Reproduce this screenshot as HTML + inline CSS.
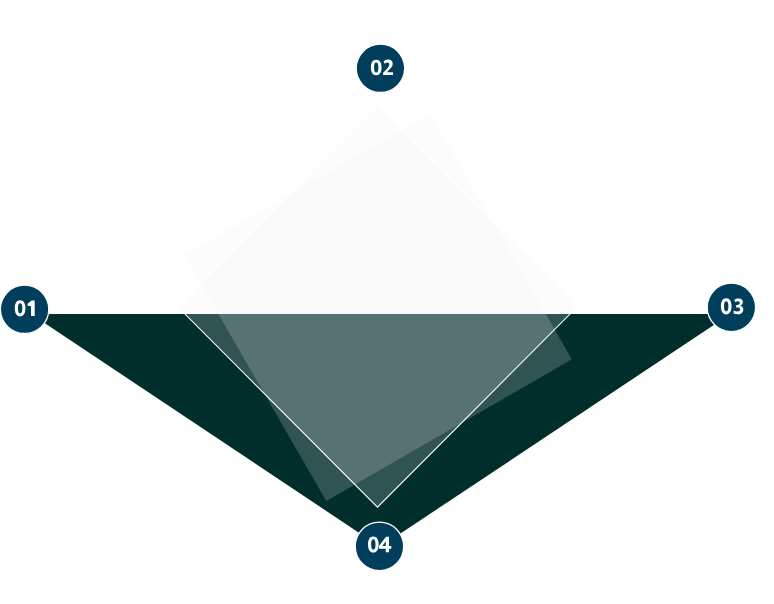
<!DOCTYPE html>
<html>
<head>
<meta charset="utf-8">
<style>
html,body{margin:0;padding:0;background:#fff;width:774px;height:604px;overflow:hidden;}
svg{display:block;}
</style>
</head>
<body>
<svg width="774" height="604" viewBox="0 0 774 604">
  <polygon points="31,314 730.35,314 380.26,546.96" fill="#002e2b"/>
  <g>
    <polygon points="430.09,113.73 571.87,359.29 326.31,501.07 184.53,255.51" fill="#f0f0f0" fill-opacity="0.2"/>
    <polygon points="377.5,106.4 577.2,306.85 377.5,507.2 177.8,306.85" fill="#f0f0f0" fill-opacity="0.2" stroke="#fff" stroke-width="1.1"/>
  </g>
  <g stroke="#fff" stroke-width="1.3" fill="#003e5c">
    <circle cx="24.6" cy="309.3" r="24.2"/>
    <circle cx="380.45" cy="68.3" r="24.2"/>
    <circle cx="731.4" cy="307.35" r="24.2"/>
    <circle cx="379.45" cy="546.4" r="24.2"/>
  </g>
  <g fill="#fff" fill-rule="evenodd">
    <path transform="translate(14.8 316.1) scale(1.033)" d="M5.15,-15.3C8.7,-15.3 10.3,-12.2 10.3,-7.5C10.3,-2.8 8.7,0.3 5.15,0.3C1.6,0.3 0,-2.8 0,-7.5C0,-12.2 1.6,-15.3 5.15,-15.3ZM5.15,-12.5C6.6,-12.5 7.25,-11 7.25,-7.5C7.25,-4 6.6,-2.5 5.15,-2.5C3.7,-2.5 3.05,-4 3.05,-7.5C3.05,-11 3.7,-12.5 5.15,-12.5Z"/>
    <path transform="translate(27.5 316.05)" d="M0,-12.3L4.2,-15.45L7.2,-15.45L7.2,0L3.5,0L3.5,-9.9L0,-10.2Z"/>
    <path transform="translate(370.9 74.95) scale(1.033 0.99)" d="M5.15,-15.3C8.7,-15.3 10.3,-12.2 10.3,-7.5C10.3,-2.8 8.7,0.3 5.15,0.3C1.6,0.3 0,-2.8 0,-7.5C0,-12.2 1.6,-15.3 5.15,-15.3ZM5.15,-12.5C6.6,-12.5 7.25,-11 7.25,-7.5C7.25,-4 6.6,-2.5 5.15,-2.5C3.7,-2.5 3.05,-4 3.05,-7.5C3.05,-11 3.7,-12.5 5.15,-12.5Z"/>
    <path transform="translate(383.1 75.1) scale(1.033)" d="M0.5,-13.2C1.8,-14.4 3.2,-15 5,-15C7.8,-15 9.3,-13.4 9.3,-11C9.3,-8.9 8.2,-7.4 6.2,-5.4L3.8,-2.9L3.8,-2.8L9.6,-2.8L9.6,0L0,0L0,-2.3L3.8,-6.2C5.5,-8 6,-8.9 6,-10.4C6,-11.6 5.4,-12.3 4.4,-12.3C3.4,-12.3 2.5,-11.8 1.5,-11Z"/>
    <path transform="translate(720.9 314.1) scale(1.033)" d="M5.15,-15.3C8.7,-15.3 10.3,-12.2 10.3,-7.5C10.3,-2.8 8.7,0.3 5.15,0.3C1.6,0.3 0,-2.8 0,-7.5C0,-12.2 1.6,-15.3 5.15,-15.3ZM5.15,-12.5C6.6,-12.5 7.25,-11 7.25,-7.5C7.25,-4 6.6,-2.5 5.15,-2.5C3.7,-2.5 3.05,-4 3.05,-7.5C3.05,-11 3.7,-12.5 5.15,-12.5Z"/>
    <path transform="translate(733.6 314.0) scale(1.033)" d="M0.6,-13.6C1.8,-14.5 3.3,-15 5,-15C7.6,-15 9,-13.7 9,-11.6C9,-9.9 8,-8.7 6.4,-8.2L6.4,-8.1C8.3,-7.7 9.4,-6.4 9.4,-4.4C9.4,-1.5 7.4,0.2 4.2,0.2C2.6,0.2 1.1,-0.1 0,-0.6L0,-3.4C1.2,-2.8 2.6,-2.5 3.9,-2.5C5.6,-2.5 6.3,-3.2 6.3,-4.5C6.3,-5.7 5.5,-6.3 3.6,-6.3L2.5,-6.3L2.5,-8.8L3.6,-8.8C5.3,-8.8 6,-9.5 6,-10.6C6,-11.6 5.4,-12.3 4.3,-12.3C3.3,-12.3 2.4,-11.9 1.6,-11.3Z"/>
    <path transform="translate(368.0 552.25) scale(1.033)" d="M5.15,-15.3C8.7,-15.3 10.3,-12.2 10.3,-7.5C10.3,-2.8 8.7,0.3 5.15,0.3C1.6,0.3 0,-2.8 0,-7.5C0,-12.2 1.6,-15.3 5.15,-15.3ZM5.15,-12.5C6.6,-12.5 7.25,-11 7.25,-7.5C7.25,-4 6.6,-2.5 5.15,-2.5C3.7,-2.5 3.05,-4 3.05,-7.5C3.05,-11 3.7,-12.5 5.15,-12.5Z"/>
    <path transform="translate(378.9 552.2) scale(1.033)" d="M6.9,-15L9.8,-15L9.8,-5.9L12,-5.9L12,-3.3L9.8,-3.3L9.8,0L6.6,0L6.6,-3.3L0,-3.3L0,-5.9ZM6.6,-10.6L6.6,-5.9L3.3,-5.9Z"/>
  </g>
</svg>
</body>
</html>
